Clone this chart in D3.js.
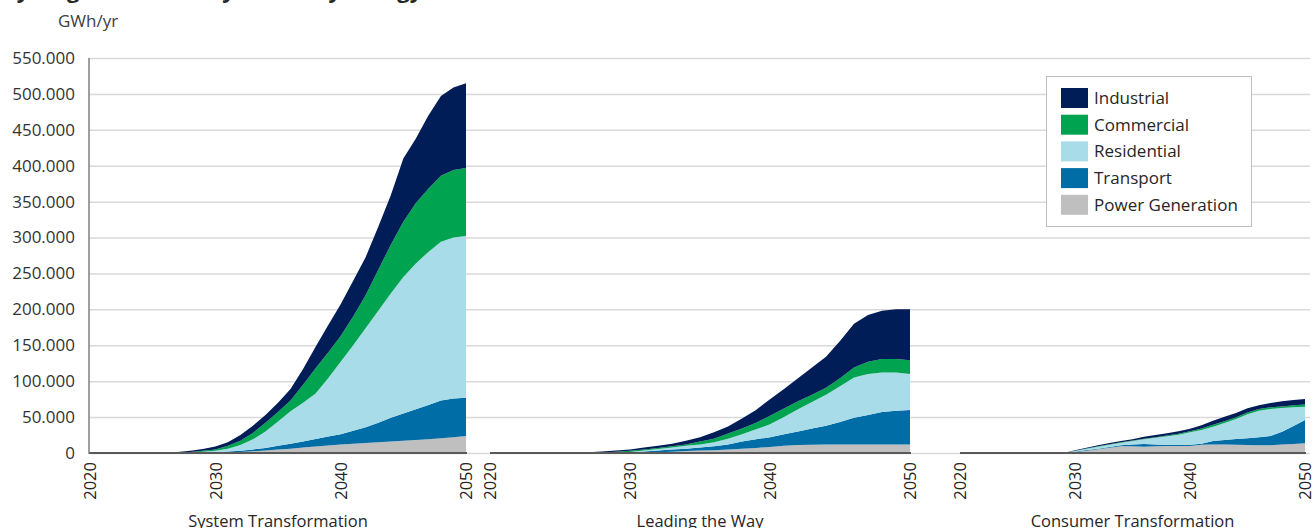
<!DOCTYPE html>
<html>
<head>
<meta charset="utf-8">
<script src="https://cdn.jsdelivr.net/npm/d3@7"></script>
<style>
  body { margin: 0; background: #fff; }
  svg text { font-family: "Open Sans", sans-serif; fill: #262626; }
</style>
</head>
<body>
<svg id="chart" width="1314" height="528"></svg>
<script>
// values in thousand GWh/yr, one per year 2020..2050
const years = [2020, 2021, 2022, 2023, 2024, 2025, 2026, 2027, 2028, 2029, 2030,
  2031, 2032, 2033, 2034, 2035, 2036, 2037, 2038, 2039, 2040,
  2041, 2042, 2043, 2044, 2045, 2046, 2047, 2048, 2049, 2050];

const scenarios = ["System Transformation", "Leading the Way", "Consumer Transformation"];
const sectors = ["Power Generation", "Transport", "Residential", "Commercial", "Industrial"];
const legendOrder = ["Industrial", "Commercial", "Residential", "Transport", "Power Generation"];

// System Transformation
const sysPower = [0, 0, 0, 0, 0, 0, 0, 0, 0, 0.2, 0.5, 0.8, 1.5, 2.5, 3.5, 5, 6, 7.5, 9, 10.5, 12, 13, 14, 15, 16, 17, 18, 19, 20.5, 22, 23.5];
const sysTransport = [0, 0, 0, 0, 0, 0, 0, 0, 0.2, 0.3, 0.5, 1.2, 1.5, 2.5, 3.5, 5, 7, 8.5, 10.5, 12.5, 14, 18, 22, 27, 33, 38, 43, 48, 52.5, 54, 53.5];
const sysResidential = [0, 0, 0, 0, 0, 0, 0, 0.2, 0.6, 1.3, 2, 4, 8, 14, 23, 34, 45, 54, 63.5, 81, 101, 119, 138, 156, 173, 190, 203, 213, 221, 224, 225];
const sysCommercial = [0, 0, 0, 0, 0, 0, 0, 0.3, 0.7, 1.2, 2, 4, 6, 9, 12, 13, 15, 25, 35, 36, 36, 40, 46, 57, 68, 77, 84, 88, 92, 94, 95];
const sysIndustrial = [0, 0, 0, 0, 0, 0, 0.5, 1, 1.5, 2.5, 4, 5, 8, 10, 11, 13, 16, 22, 30, 38, 44, 50, 53, 60, 69, 88, 90, 102, 111, 115, 118];

// Leading the Way
const lwPower = [0, 0, 0, 0, 0, 0, 0, 0, 0, 0.1, 0.3, 0.6, 1, 1.8, 2.8, 3.5, 4, 5, 6, 7, 8.5, 10, 11, 11.5, 12, 12, 12, 12, 12, 12, 12];
const lwTransport = [0, 0, 0, 0, 0, 0, 0, 0, 0.2, 0.4, 0.7, 1.4, 2.5, 3, 3.2, 4, 5.5, 7, 10, 12, 13.5, 16, 19, 22.5, 26, 31, 37, 41, 45, 47, 48];
const lwResidential = [0, 0, 0, 0, 0, 0, 0, 0, 0.2, 0.4, 0.5, 1.5, 2, 2.7, 4, 4.5, 5.5, 8, 10, 14, 18, 24, 31, 37, 43, 50, 56, 57, 55, 53, 50];
const lwCommercial = [0, 0, 0, 0, 0, 0, 0, 0.2, 0.4, 0.9, 1.5, 1.5, 1.5, 2, 2, 4, 5, 7, 8, 9, 12, 12, 11, 10, 10, 11, 14, 17, 19, 19, 19];
const lwIndustrial = [0, 0, 0, 0, 0, 0, 0.3, 0.8, 1.2, 1.7, 2, 2.5, 3, 3.5, 5, 6, 9, 10, 14, 18, 23, 27, 32, 38, 43, 52, 61, 65, 67, 69, 71];

// Consumer Transformation
const ctPower = [0, 0, 0, 0, 0, 0, 0, 0, 0, 0, 0.9, 3.2, 5.1, 7.4, 9.3, 9.3, 8.8, 9.3, 9.7, 9.7, 9.7, 11.6, 12, 12, 11.6, 11.1, 10.7, 10.7, 12, 12.5, 13.5];
const ctTransport = [0, 0, 0, 0, 0, 0, 0, 0, 0, 0, 1, 1, 0.9, 1, 1.4, 2.7, 3.7, 2.7, 1.4, 1.4, 1.9, 1.4, 4.7, 6.1, 7.9, 9.3, 11.1, 13, 17.7, 25.1, 32.4];
const ctResidential = [0, 0, 0, 0, 0, 0, 0, 0, 0, 0, 0.9, 1.8, 2.8, 3.2, 3.7, 4.7, 6.5, 9.3, 12.1, 14.4, 17.2, 19, 20, 23.7, 27.8, 33.4, 37.1, 37.5, 32.9, 26, 18.6];
const ctCommercial = [0, 0, 0, 0, 0, 0, 0, 0, 0, 0, 0.3, 0.4, 0.5, 0.6, 0.6, 0.6, 0.8, 0.8, 1, 1.2, 1.5, 2, 2.5, 2.5, 2.5, 2.5, 2.5, 2.5, 2.3, 2.8, 3.2];
const ctIndustrial = [0, 0, 0, 0, 0, 0, 0, 0, 0, 0, 0.6, 1, 1.4, 1.7, 1.7, 1.7, 2.9, 2.9, 3.2, 3.5, 3.6, 4.5, 5.8, 6.3, 5.9, 5.9, 5, 5.9, 7, 7.4, 7.5];

const yTicks = [0, 50, 100, 150, 200, 250, 300, 350, 400, 450, 500, 550];
const xTicks = [2020, 2030, 2040, 2050];

const colors = {
  "Industrial": "#001d57",
  "Commercial": "#00a34f",
  "Residential": "#a8dce9",
  "Transport": "#016da7",
  "Power Generation": "#bfbfbf"
};

const seriesByScenario = [
  [sysPower, sysTransport, sysResidential, sysCommercial, sysIndustrial],
  [lwPower, lwTransport, lwResidential, lwCommercial, lwIndustrial],
  [ctPower, ctTransport, ctResidential, ctCommercial, ctIndustrial]
];

// panel pixel spans (2020 -> 2050)
const panelSpans = [[90, 466], [490, 910], [960, 1305]];

const svg = d3.select("#chart");
const plotLeft = 89, plotRight = 1310;

const y = d3.scaleLinear().domain([0, 550]).range([453, 58]);
const nf = d3.formatLocale({ decimal: ",", thousands: ".", grouping: [3], currency: ["", ""] }).format(",");

// title (cut off at top in the source image)
svg.append("text")
  .attr("x", 0).attr("y", -2)
  .style("font-size", "22px").style("font-weight", "bold")
  .text("Hydrogen demand by sector by energy scenario");

svg.append("text")
  .attr("x", 58).attr("y", 27)
  .style("font-size", "17px").style("fill", "#404040")
  .text("GWh/yr");

// gridlines + y labels
const yAxis = svg.append("g")
  .attr("transform", `translate(${plotLeft},0)`)
  .call(d3.axisLeft(y).tickValues(yTicks).tickSize(-(plotRight - plotLeft)).tickPadding(14)
    .tickFormat(d => nf(d * 1000)));
yAxis.select(".domain").remove();
yAxis.selectAll(".tick line").attr("stroke", "#d9d9d9").attr("stroke-width", 1.5);
yAxis.selectAll(".tick text").style("font-size", "17px").style("fill", "#333");

scenarios.forEach((name, p) => {
  const x = d3.scaleLinear().domain([2020, 2050]).range(panelSpans[p]);
  const rows = years.map((yr, i) => {
    const r = { year: yr };
    sectors.forEach((s, k) => { r[s] = seriesByScenario[p][k][i]; });
    return r;
  });
  const stacked = d3.stack().keys(sectors)(rows);
  const area = d3.area()
    .x(d => x(d.data.year))
    .y0(d => y(d[0]))
    .y1(d => y(d[1]));

  const g = svg.append("g");
  g.selectAll("path")
    .data(stacked)
    .join("path")
    .attr("d", area)
    .attr("fill", d => colors[d.key]);

  // baseline
  g.append("line")
    .attr("x1", panelSpans[p][0] - (p === 0 ? 1 : 0)).attr("x2", panelSpans[p][1] + 1)
    .attr("y1", 453).attr("y2", 453)
    .attr("stroke", "#595959").attr("stroke-width", 2);

  const xa = g.append("g")
    .attr("transform", "translate(0,453)")
    .call(d3.axisBottom(x).tickValues(xTicks).tickSize(0).tickFormat(d3.format("d")));
  xa.select(".domain").remove();
  xa.selectAll(".tick text")
    .attr("transform", "rotate(-90)")
    .attr("x", -9).attr("y", 0).attr("dy", "0.36em")
    .attr("text-anchor", "end")
    .style("font-size", "16.5px").style("fill", "#262626");

  g.append("text")
    .attr("x", (panelSpans[p][0] + panelSpans[p][1]) / 2)
    .attr("y", 527)
    .attr("text-anchor", "middle")
    .style("font-size", "16.5px")
    .text(name);
});

// y axis line
svg.append("line")
  .attr("x1", plotLeft).attr("x2", plotLeft)
  .attr("y1", 58).attr("y2", 454)
  .attr("stroke", "#7f7f7f").attr("stroke-width", 1.5);

// legend
const legend = svg.append("g");
legend.append("rect")
  .attr("x", 1046.5).attr("y", 76.5)
  .attr("width", 205).attr("height", 150)
  .attr("fill", "#fff").attr("stroke", "#bfbfbf");
const items = legend.selectAll("g.item")
  .data(legendOrder)
  .join("g")
  .attr("class", "item")
  .attr("transform", (d, i) => `translate(1061,${88 + i * 26.7})`);
items.append("rect")
  .attr("width", 27).attr("height", 20)
  .attr("fill", d => colors[d]);
items.append("text")
  .attr("x", 33).attr("y", 10).attr("dy", "0.35em")
  .style("font-size", "17px")
  .text(d => d);
</script>
</body>
</html>
